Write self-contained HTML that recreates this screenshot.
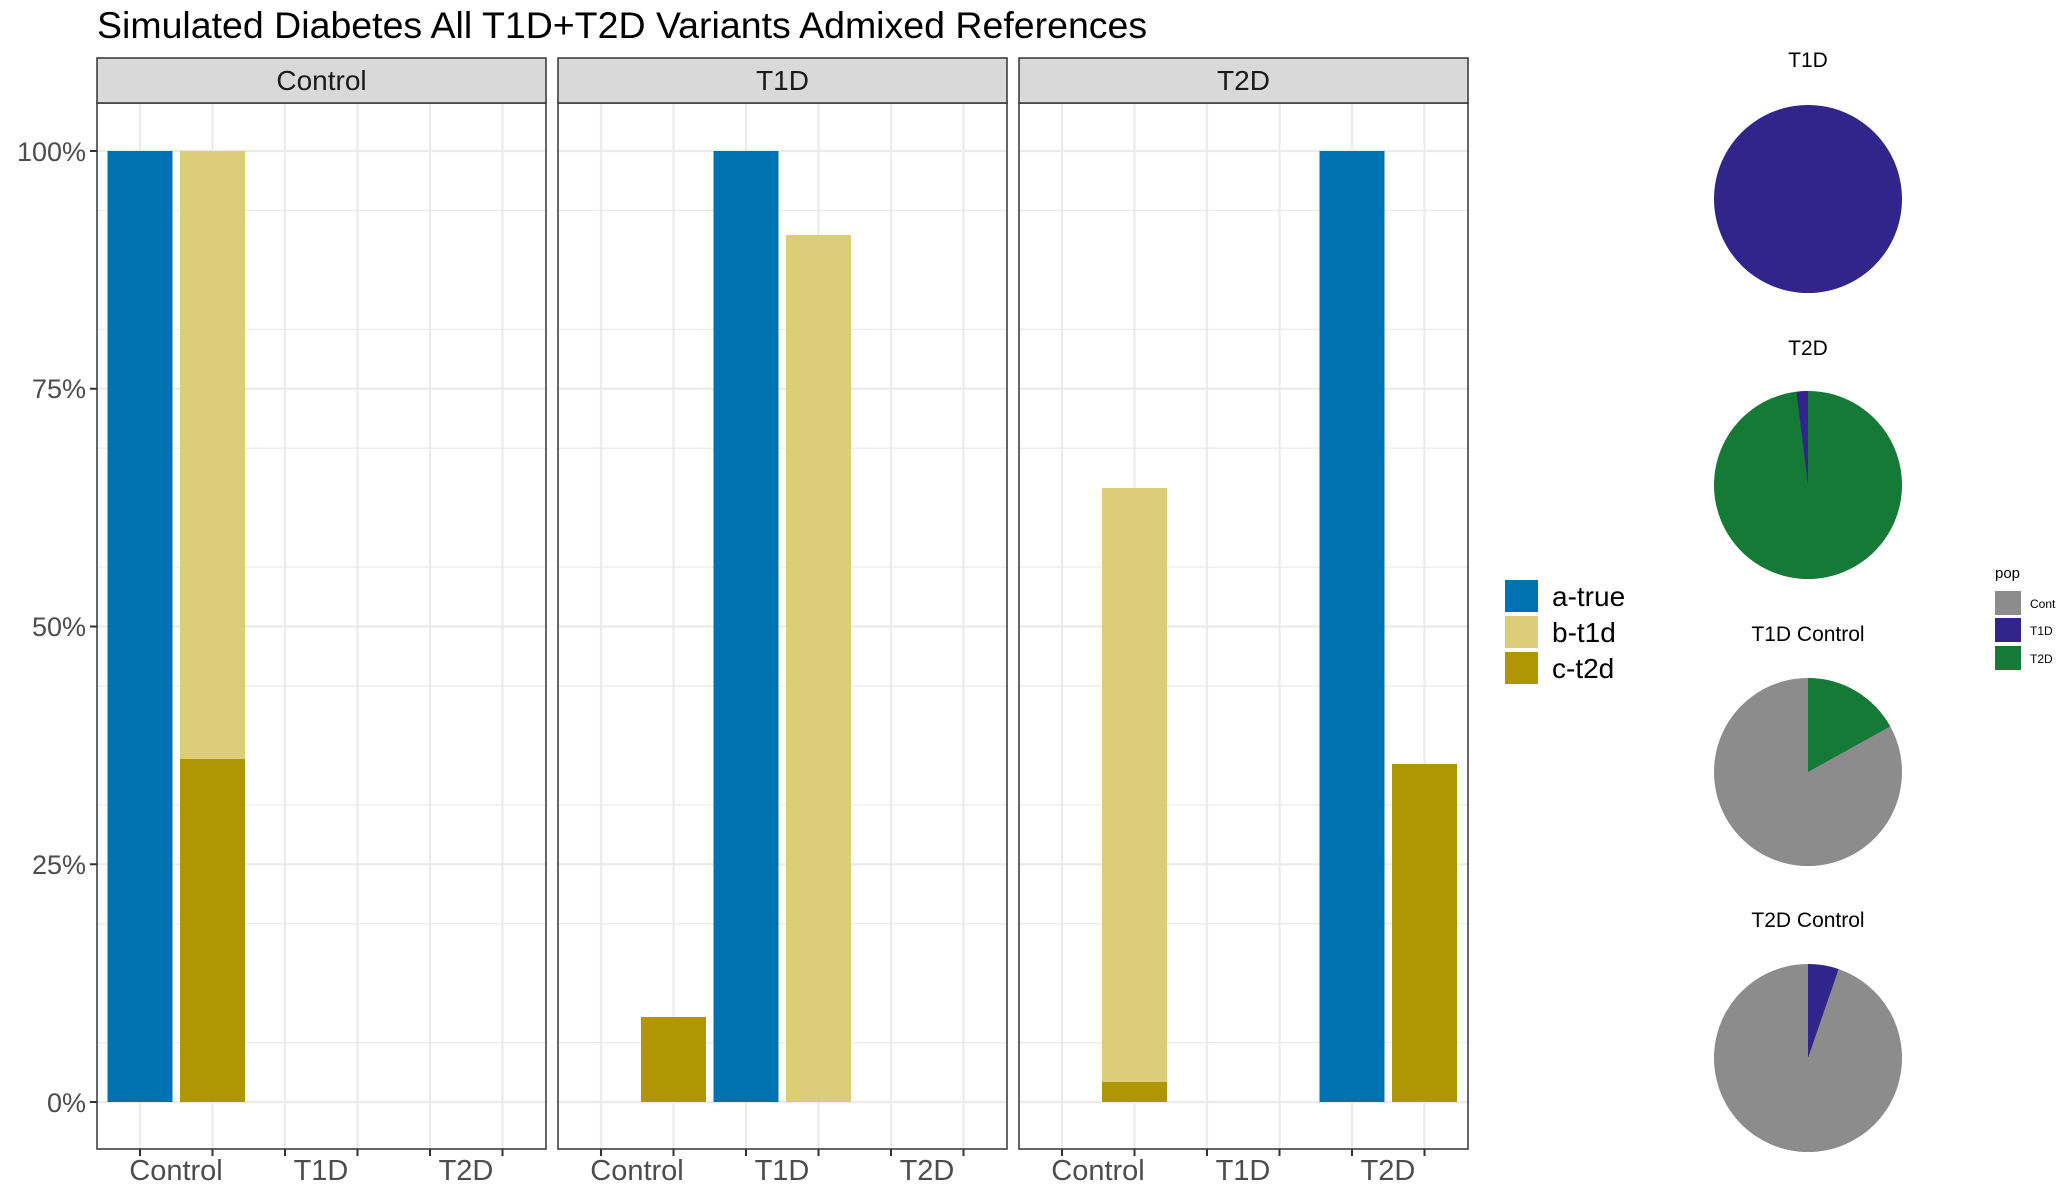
<!DOCTYPE html>
<html><head><meta charset="utf-8"><style>
html,body{margin:0;padding:0;background:#fff;}
svg{display:block;font-family:"Liberation Sans",sans-serif;}
</style></head><body>
<svg width="2056" height="1199" viewBox="0 0 2056 1199" xmlns="http://www.w3.org/2000/svg">
<rect width="2056" height="1199" fill="#fff"/>
<text x="97" y="38" font-size="37.5" fill="#000">Simulated Diabetes All T1D+T2D Variants Admixed References</text>

<g id="panels">
<g stroke="#ebebeb" stroke-width="1.3">
<path d="M97 1042.6H546M97 923.7H546M97 804.9H546M97 686H546M97 567.1H546M97 448.2H546M97 329.4H546M97 210.5H546"/>
<path d="M558 1042.6H1007M558 923.7H1007M558 804.9H1007M558 686H1007M558 567.1H1007M558 448.2H1007M558 329.4H1007M558 210.5H1007"/>
<path d="M1019 1042.6H1468M1019 923.7H1468M1019 804.9H1468M1019 686H1468M1019 567.1H1468M1019 448.2H1468M1019 329.4H1468M1019 210.5H1468"/>
</g>
<g stroke="#ebebeb" stroke-width="2.2">
<path d="M97 1102H546M97 864.25H546M97 626.5H546M97 388.75H546M97 151H546"/>
<path d="M558 1102H1007M558 864.25H1007M558 626.5H1007M558 388.75H1007M558 151H1007"/>
<path d="M1019 1102H1468M1019 864.25H1468M1019 626.5H1468M1019 388.75H1468M1019 151H1468"/>
<path d="M140 103V1149M212.5 103V1149M285 103V1149M357.5 103V1149M430 103V1149M502.5 103V1149"/>
<path d="M601 103V1149M673.5 103V1149M746 103V1149M818.5 103V1149M891 103V1149M963.5 103V1149"/>
<path d="M1062 103V1149M1134.5 103V1149M1207 103V1149M1279.5 103V1149M1352 103V1149M1424.5 103V1149"/>
</g>

<rect x="107.5" y="151" width="65" height="951" fill="#0072b2"/>
<rect x="180" y="151" width="65" height="608" fill="#dccd7a"/>
<rect x="180" y="759" width="65" height="343" fill="#b19603"/>
<rect x="641" y="1017" width="65" height="85" fill="#b19603"/>
<rect x="713.5" y="151" width="65" height="951" fill="#0072b2"/>
<rect x="786" y="235" width="65" height="867" fill="#dccd7a"/>
<rect x="1102" y="488" width="65" height="594" fill="#dccd7a"/>
<rect x="1102" y="1082" width="65" height="20" fill="#b19603"/>
<rect x="1319.5" y="151" width="65" height="951" fill="#0072b2"/>
<rect x="1392" y="764" width="65" height="338" fill="#b19603"/>

<g fill="none" stroke="#333" stroke-width="1.5">
<rect x="97" y="103" width="449" height="1046"/>
<rect x="558" y="103" width="449" height="1046"/>
<rect x="1019" y="103" width="449" height="1046"/>
</g>
<g fill="#d9d9d9" stroke="#333" stroke-width="1.5">
<rect x="97" y="58" width="449" height="45"/>
<rect x="558" y="58" width="449" height="45"/>
<rect x="1019" y="58" width="449" height="45"/>
</g>
<g font-size="28" fill="#1a1a1a" text-anchor="middle">
<text x="321.5" y="90">Control</text>
<text x="782.5" y="90">T1D</text>
<text x="1243.5" y="90">T2D</text>
</g>

<g stroke="#333" stroke-width="2">
<path d="M90 1102H97M90 864.25H97M90 626.5H97M90 388.75H97M90 151H97"/>
<path d="M140 1149V1156M212.5 1149V1156M285 1149V1156M357.5 1149V1156M430 1149V1156M502.5 1149V1156"/>
<path d="M601 1149V1156M673.5 1149V1156M746 1149V1156M818.5 1149V1156M891 1149V1156M963.5 1149V1156"/>
<path d="M1062 1149V1156M1134.5 1149V1156M1207 1149V1156M1279.5 1149V1156M1352 1149V1156M1424.5 1149V1156"/>
</g>
<g font-size="27" fill="#4d4d4d" text-anchor="end">
<text x="86" y="1112">0%</text>
<text x="86" y="874">25%</text>
<text x="86" y="636">50%</text>
<text x="86" y="398">75%</text>
<text x="86" y="161">100%</text>
</g>
<g font-size="29" fill="#4d4d4d" text-anchor="middle">
<text x="176" y="1180">Control</text><text x="321" y="1180">T1D</text><text x="466" y="1180">T2D</text>
<text x="637" y="1180">Control</text><text x="782" y="1180">T1D</text><text x="927" y="1180">T2D</text>
<text x="1098" y="1180">Control</text><text x="1243" y="1180">T1D</text><text x="1388" y="1180">T2D</text>
</g>
</g>

<rect x="1505" y="580" width="33" height="32" fill="#0072b2"/>
<rect x="1505" y="616" width="33" height="32" fill="#dccd7a"/>
<rect x="1505" y="652" width="33" height="32" fill="#b19603"/>
<g font-size="28" fill="#000">
<text x="1552" y="606">a-true</text>
<text x="1552" y="642">b-t1d</text>
<text x="1552" y="678">c-t2d</text>
</g>

<g font-size="21" fill="#000" text-anchor="middle">
<text x="1808" y="67">T1D</text>
<text x="1808" y="355">T2D</text>
<text x="1808" y="641">T1D Control</text>
<text x="1808" y="927">T2D Control</text>
</g>
<circle cx="1808" cy="199" r="94" fill="#31248a"/>
<circle cx="1808" cy="485" r="94" fill="#157a35"/>
<path d="M1808 485L1796.5 391.7A94 94 0 0 1 1808 391Z" fill="#31248a"/>
<circle cx="1808" cy="772" r="94" fill="#8c8c8c"/>
<path d="M1808 772L1808 678A94 94 0 0 1 1890.2 726.4Z" fill="#157a35"/>
<circle cx="1808" cy="1058" r="94" fill="#8c8c8c"/>
<path d="M1808 1058L1808 964A94 94 0 0 1 1838.6 969.1Z" fill="#31248a"/>

<text x="1995" y="578" font-size="15" fill="#000">pop</text>
<rect x="1995" y="591" width="26" height="24" fill="#8c8c8c"/>
<rect x="1995" y="618" width="26" height="24" fill="#31248a"/>
<rect x="1995" y="646" width="26" height="24" fill="#157a35"/>
<g font-size="12" fill="#000">
<text x="2030" y="608">Control</text>
<text x="2030" y="635">T1D</text>
<text x="2030" y="663">T2D</text>
</g>
</svg>
</body></html>
